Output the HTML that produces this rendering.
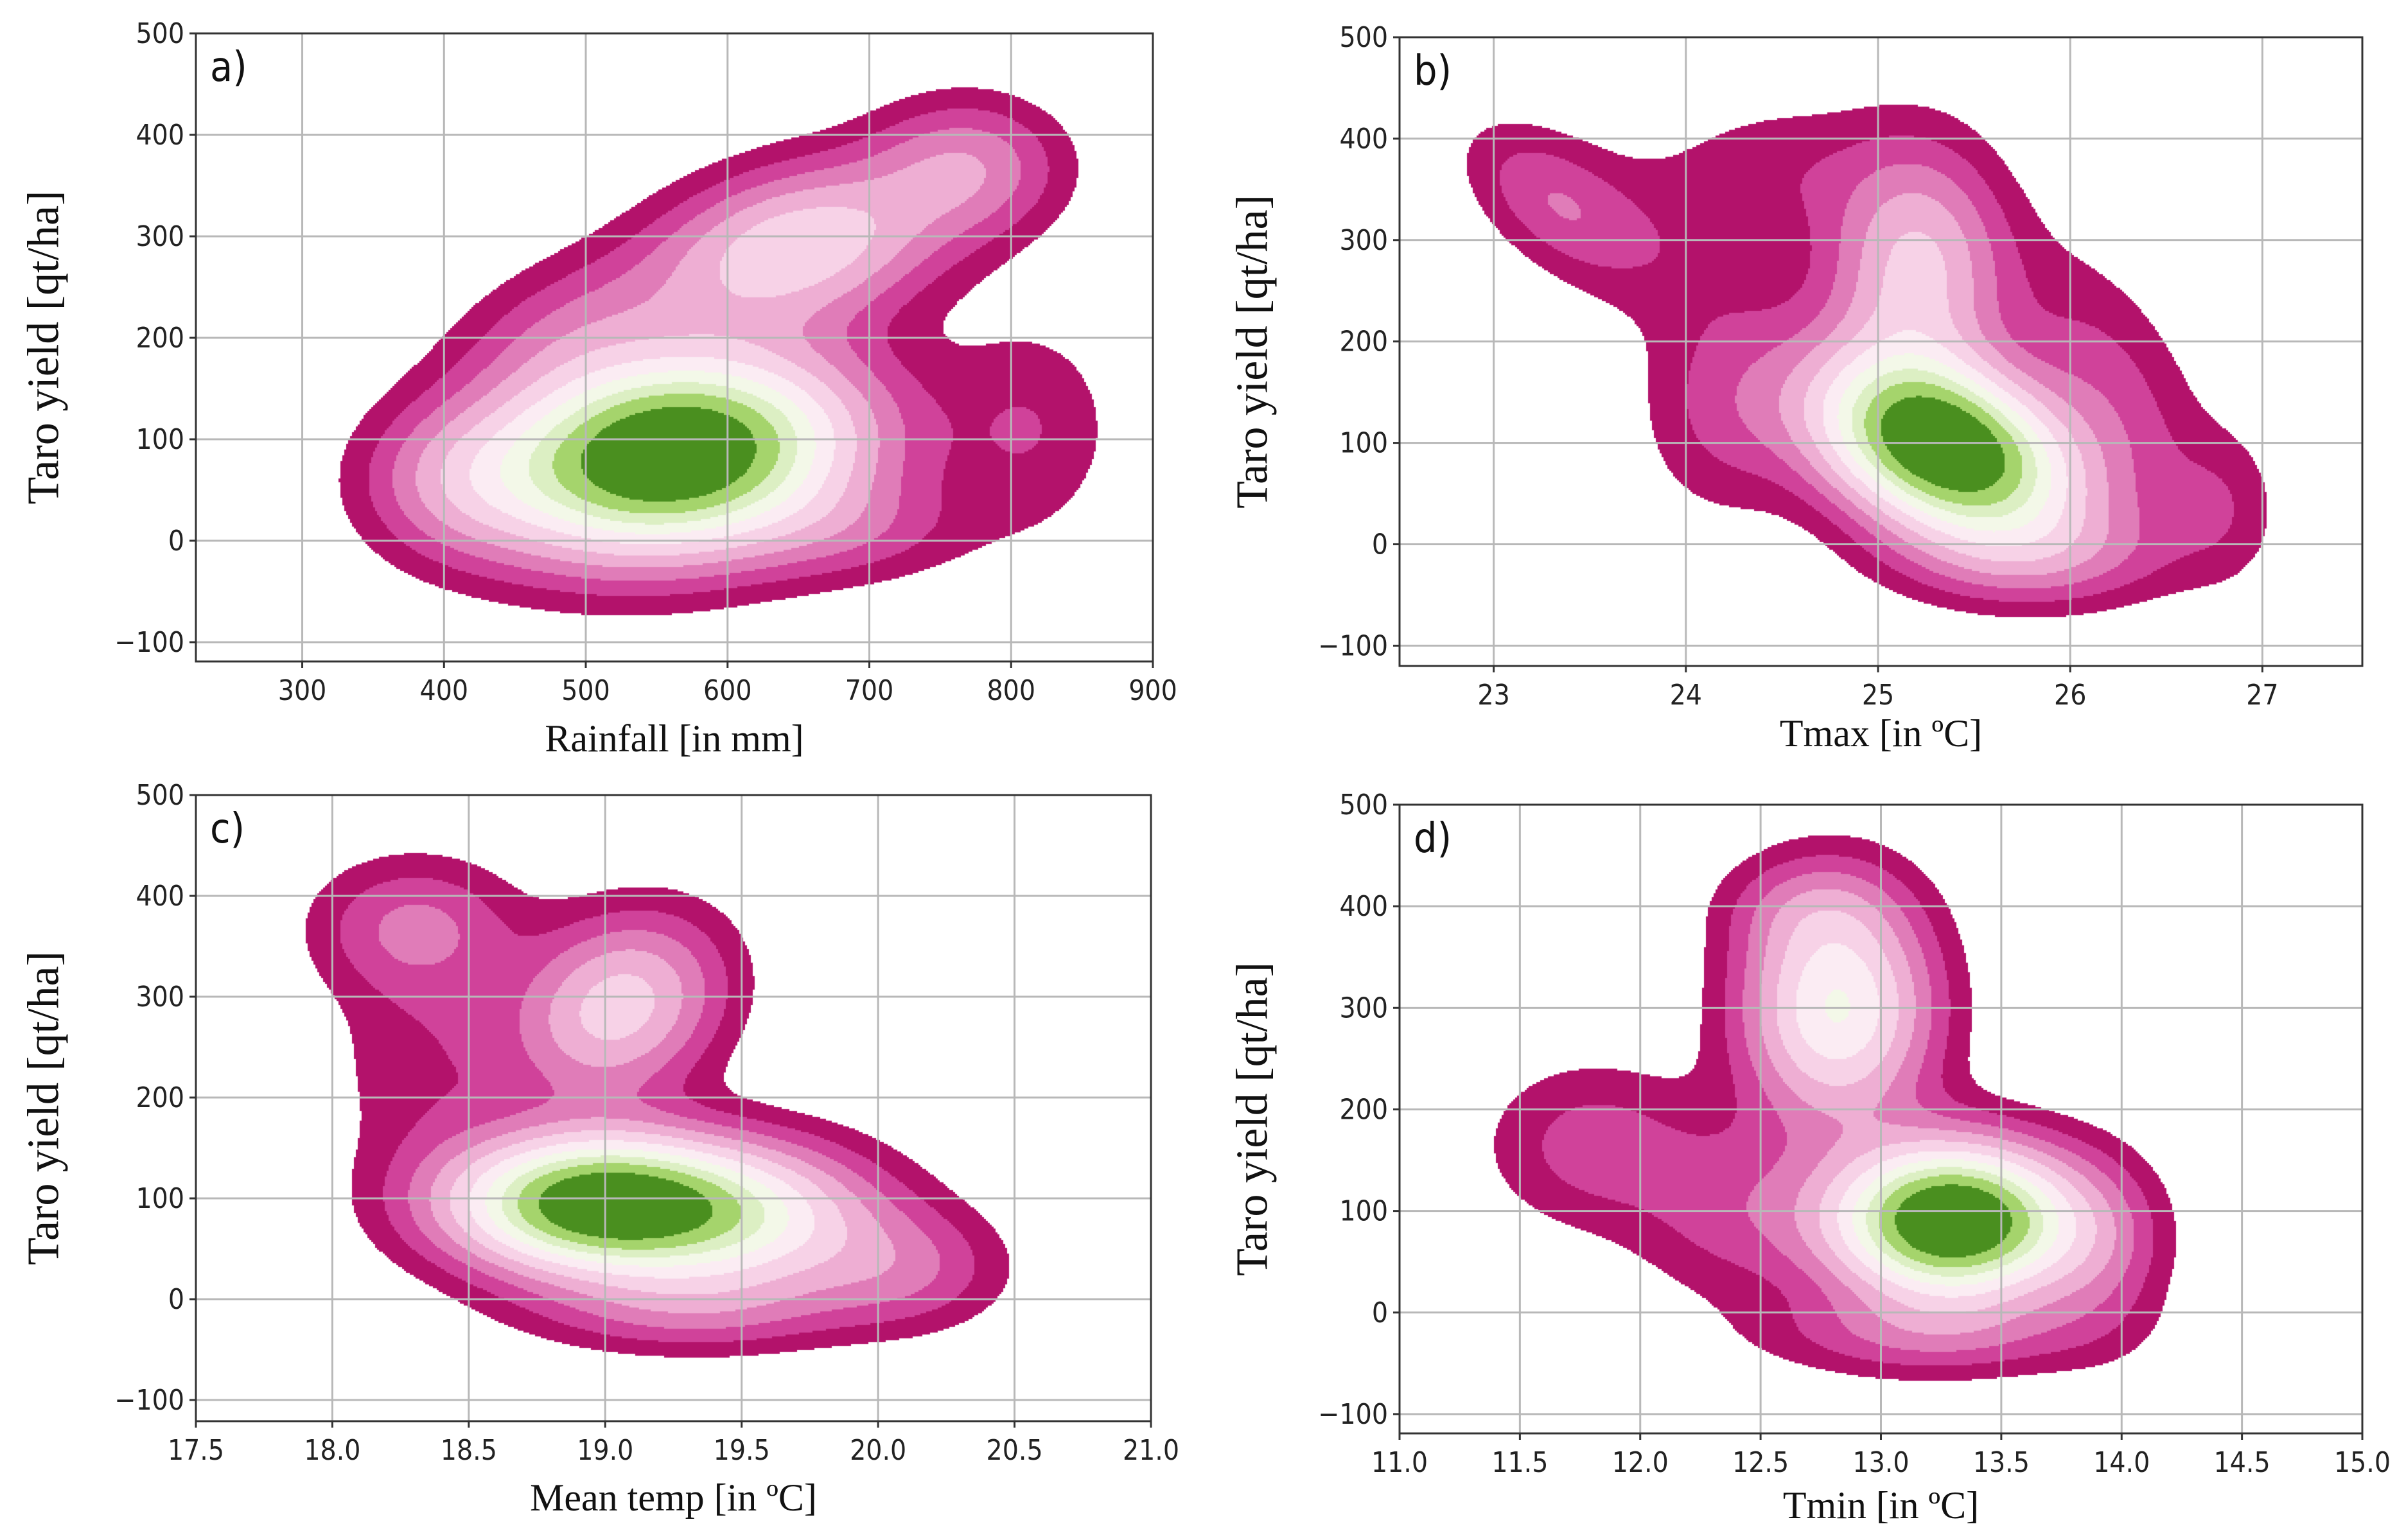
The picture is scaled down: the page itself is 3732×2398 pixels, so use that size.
<!DOCTYPE html>
<html><head><meta charset="utf-8">
<style>
html,body{margin:0;padding:0;background:#fff;}
#root{position:relative;width:3732px;height:2398px;overflow:hidden;background:#fff;}
canvas{position:absolute;}
svg{position:absolute;left:0;top:0;}
</style></head>
<body>
<div id="root">
<canvas id="cva"></canvas>
<canvas id="cvb"></canvas>
<canvas id="cvc"></canvas>
<canvas id="cvd"></canvas>
<svg id="ov" width="3732" height="2398"></svg>
</div>
<script>
// Density components: [xCenter, yCenter, sigmaX, sigmaY, rho, weight]
const compA = [[560,85,85,65,0.15,1.3],[650,290,70,55,0.3,0.5],[815,110,40,70,0,0.12],[770,370,45,45,0,0.25],[410,60,45,50,0,0.2],[490,210,55,50,0.3,0.15],[690,10,60,35,0,0.12]];
const compB = [[25.35,95,0.45,60,-0.35,1.3],[25.2,270,0.3,80,0,0.45],[23.3,340,0.3,50,-0.5,0.18],[23.9,290,0.45,70,-0.4,0.09],[24.5,370,0.4,50,0,0.1],[26.2,160,0.35,90,-0.5,0.15],[24.2,130,0.3,70,0,0.14],[25.8,-10,0.5,35,0,0.2],[26.8,40,0.2,50,0,0.1]];
const compC = [[18.95,95,0.35,45,0,1.2],[19.5,80,0.35,50,0,0.6],[19.05,290,0.25,60,0.2,0.5],[18.3,370,0.25,45,0,0.22],[18.35,240,0.25,90,0,0.12],[20.1,30,0.25,40,0,0.2],[19.3,-10,0.4,30,0,0.2]];
const compD = [[13.3,90,0.33,50,0,1.2],[12.82,300,0.26,75,0,0.6],[11.8,165,0.3,55,0,0.15],[12.7,400,0.25,35,0,0.12],[13.9,60,0.2,60,0,0.15],[13.2,-20,0.45,30,0,0.18],[12.4,100,0.3,60,0,0.14]];
const levels = [0.05,0.1,0.16,0.23,0.31,0.4,0.49,0.58,0.67,0.78];
const bandColors = ['#b3126b','#d0429a','#e07cb8','#eeaed3','#f7d2e7','#fbecf3','#f3f8e8','#dcefc3','#a5d46c','#4a8f1f'];
const yTicks = [-100,0,100,200,300,400,500];
const xTicksA = [300,400,500,600,700,800,900];
const xTicksB = [23,24,25,26,27];
const xTicksC = [17.5,18.0,18.5,19.0,19.5,20.0,20.5,21.0];
const xTicksD = [11.0,11.5,12.0,12.5,13.0,13.5,14.0,14.5,15.0];

const panels = [
 {id:'a',cv:'cva',comp:compA,L:305,R:1795,T:52,B:1030,xd:[225,900],yd:[-119,500],xt:xTicksA,dec:0,xl:'Rainfall [in mm]',xlY:1170,ylX:68},
 {id:'b',cv:'cvb',comp:compB,L:2179,R:3678,T:58,B:1037,xd:[22.51,27.52],yd:[-120,500],xt:xTicksB,dec:0,xl:'Tmax [in \u00BAC]',xlY:1162,ylX:1950},
 {id:'c',cv:'cvc',comp:compC,L:305,R:1792,T:1238,B:2213,xd:[17.5,21.0],yd:[-121,500],xt:xTicksC,dec:1,xl:'Mean temp [in \u00BAC]',xlY:2352,ylX:68},
 {id:'d',cv:'cvd',comp:compD,L:2179,R:3678,T:1253,B:2232,xd:[11.0,15.0],yd:[-119,500],xt:xTicksD,dec:1,xl:'Tmin [in \u00BAC]',xlY:2364,ylX:1950}
];
const NS='http://www.w3.org/2000/svg';
const ov=document.getElementById('ov');
function mk(tag,attrs,parent){const e=document.createElementNS(NS,tag);for(const k in attrs)e.setAttribute(k,attrs[k]);(parent||ov).appendChild(e);return e;}
function hex(c){return [parseInt(c.slice(1,3),16),parseInt(c.slice(3,5),16),parseInt(c.slice(5,7),16)];}
const rgb=bandColors.map(hex);

panels.forEach(p=>{
  const W=p.R-p.L,H=p.B-p.T;
  const sx=v=>p.L+(v-p.xd[0])/(p.xd[1]-p.xd[0])*W;
  const sy=v=>p.B-(v-p.yd[0])/(p.yd[1]-p.yd[0])*H;
  const cv=document.getElementById(p.cv);
  cv.width=W;cv.height=H;cv.style.left=p.L+'px';cv.style.top=p.T+'px';
  const ctx=cv.getContext('2d');
  const step=3,gw=Math.ceil(W/step),gh=Math.ceil(H/step);
  const dens=new Float32Array(gw*gh);let mx=0;
  for(let j=0;j<gh;j++){const yv=p.yd[1]-(j*step+step/2)/H*(p.yd[1]-p.yd[0]);
    for(let i=0;i<gw;i++){const xv=p.xd[0]+(i*step+step/2)/W*(p.xd[1]-p.xd[0]);
      let d=0;for(const c of p.comp){const u=(xv-c[0])/c[2],v=(yv-c[1])/c[3],r=c[4];
        d+=c[5]*Math.exp(-(u*u-2*r*u*v+v*v)/(2*(1-r*r)));}
      dens[j*gw+i]=d;if(d>mx)mx=d;}}
  const img=ctx.createImageData(W,H);
  for(let y=0;y<H;y++){const j=Math.min(gh-1,Math.floor(y/step));
    for(let x=0;x<W;x++){const i=Math.min(gw-1,Math.floor(x/step));
      const f=dens[j*gw+i]/mx;let b=-1;for(let k=0;k<levels.length;k++)if(f>=levels[k])b=k;
      const o=(y*W+x)*4;
      if(b<0){img.data[o]=255;img.data[o+1]=255;img.data[o+2]=255;}
      else{img.data[o]=rgb[b][0];img.data[o+1]=rgb[b][1];img.data[o+2]=rgb[b][2];}
      img.data[o+3]=255;}}
  ctx.putImageData(img,0,0);

  const g=mk('g',{});
  
  
  p.xt.forEach(t=>{const x=sx(t);
    const l=mk('line',{x1:x,x2:x,y1:p.T,y2:p.B,stroke:'#b8b8b8','stroke-width':3},g);
    
    
    const tk=mk('line',{x1:x,x2:x,y1:p.B,y2:p.B+10,stroke:'#333','stroke-width':3},g);
    
    
    const tx=mk('text',{x:x,y:p.B+60,'text-anchor':'middle','font-size':44,fill:'#222','font-family':'"DejaVu Sans Condensed","DejaVu Sans",sans-serif'},g);
    tx.textContent=t.toFixed(p.dec);
    
    
  });
  yTicks.forEach(t=>{const y=sy(t);
    const l=mk('line',{x1:p.L,x2:p.R,y1:y,y2:y,stroke:'#b8b8b8','stroke-width':3},g);
    
    
    const tk=mk('line',{x1:p.L-10,x2:p.L,y1:y,y2:y,stroke:'#333','stroke-width':3},g);
    
    
    const tx=mk('text',{x:p.L-18,y:y+15,'text-anchor':'end','font-size':44,fill:'#222','font-family':'"DejaVu Sans Condensed","DejaVu Sans",sans-serif'},g);
    tx.textContent=t<0?'\u2212'+Math.abs(t):String(t);
    
    
  });
  const fr=mk('rect',{x:p.L,y:p.T,width:W,height:H,fill:'none',stroke:'#333','stroke-width':3},g);
  
  
  const lb=mk('text',{x:p.L+22,y:p.T+74,'font-size':64,fill:'#111','font-family':'"DejaVu Sans Condensed","DejaVu Sans",sans-serif'},g);
  lb.textContent=p.id+')';
  
  
  const xl=mk('text',{x:(p.L+p.R)/2,y:p.xlY,'text-anchor':'middle','font-size':60,fill:'#111','font-family':'"Liberation Serif",serif'},g);
  xl.textContent=p.xl;
  
  
  const cy=(p.T+p.B)/2;
  const yl=mk('text',{x:p.ylX,y:cy,'text-anchor':'middle','font-size':70,fill:'#111','font-family':'"Liberation Serif",serif',transform:'rotate(-90 '+p.ylX+' '+cy+')','dominant-baseline':'central'},g);
  yl.textContent='Taro yield [qt/ha]';
  
  
});
</script>
</body></html>
